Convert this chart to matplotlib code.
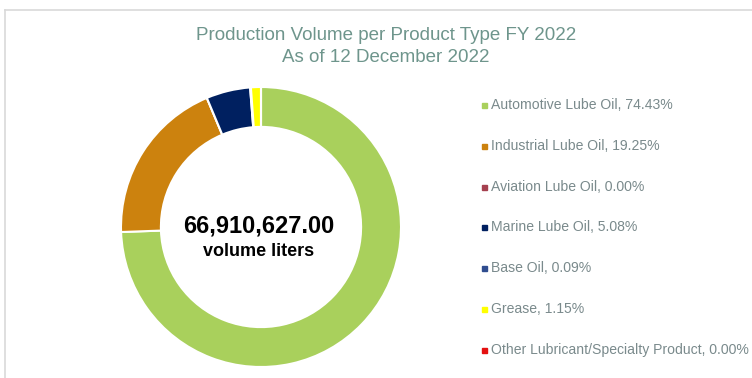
import matplotlib
matplotlib.use("Agg")
import matplotlib.pyplot as plt
from matplotlib.lines import Line2D

categories = ["Automotive Lube Oil", "Industrial Lube Oil", "Aviation Lube Oil",
              "Marine Lube Oil", "Base Oil", "Grease", "Other Lubricant/Specialty Product"]
shares = [74.43, 19.25, 0.00, 5.08, 0.09, 1.15, 0.00]
colors = ["#A9D05C", "#CC820E", "#A5404F", "#002060", "#2F4D8F", "#FFFF00", "#E41010"]
total_volume = 66910627.00
title_lines = ["Production Volume per Product Type FY 2022", "As of 12 December 2022"]

W, H = 752, 378
plt.rcParams['font.family'] = ['Liberation Sans', 'DejaVu Sans']
fig = plt.figure(figsize=(W / 100, H / 100), dpi=100)
fig.patch.set_facecolor("white")

def fx(px):
    return px / W

def fy(py):
    return 1 - py / H

# frame
fig.add_artist(Line2D([fx(5), 1], [fy(10), fy(10)], color="#D9D9D9", lw=1.2))
fig.add_artist(Line2D([fx(5), fx(5)], [fy(10), 0], color="#D9D9D9", lw=1.2))

# title
title_color = "#6E958C"
fig.text(fx(386), fy(36), title_lines[0], ha="center", va="center", fontsize=13.5, color=title_color)
fig.text(fx(386), fy(57), title_lines[1], ha="center", va="center", fontsize=13.5, color=title_color)

# donut
cx, cy, r = 261, 227, 140
ax = fig.add_axes([fx(cx - r), fy(cy + r), 2 * r / W, 2 * r / H])
ax.pie(shares, colors=colors, startangle=90, counterclock=False, radius=1,
       wedgeprops=dict(width=0.285, edgecolor="white", linewidth=1.5))
ax.set_xlim(-1, 1)
ax.set_ylim(-1, 1)
ax.set_aspect("equal")
ax.axis("off")

fig.text(fx(259), fy(226), f"{total_volume:,.2f}", ha="center", va="center",
         fontsize=17, fontweight="bold", color="black")
fig.text(fx(259), fy(251), "volume liters", ha="center", va="center",
         fontsize=13, fontweight="bold", color="black")

# legend
legend_color = "#7A8A8C"
y0, dy = 105, 40.8
for i, (name, pct, col) in enumerate(zip(categories, shares, colors)):
    y = y0 + i * dy
    fig.add_artist(Line2D([fx(484)], [fy(y)], marker="s", markersize=3.6,
                          color=col, linestyle="none"))
    fig.text(fx(491), fy(y), f"{name}, {pct:.2f}%", ha="left", va="center",
             fontsize=10.1, color=legend_color)

fig.savefig("out.png", dpi=100, facecolor="white")
